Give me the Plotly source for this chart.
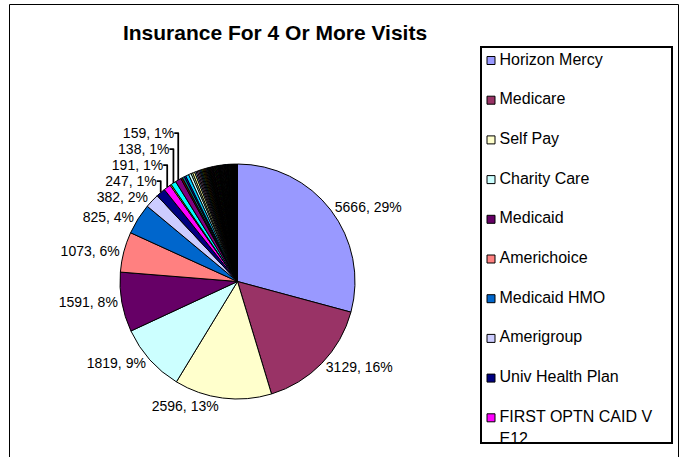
import textwrap
import plotly.graph_objects as go

W, H = 684, 457

# ---------------- data ----------------
main_labels = ["Horizon Mercy", "Medicare", "Self Pay", "Charity Care", "Medicaid",
               "Americhoice", "Medicaid HMO", "Amerigroup", "Univ Health Plan",
               "FIRST OPTN CAID V E12"]
main_values = [5666, 3129, 2596, 1819, 1591, 1073, 825, 382, 247, 191]

# smaller insurers (their names are not visible in the original's legend)
small_values = [35, 138, 159, 45, 60, 40, 85, 70, 45, 55, 40, 35, 35, 30, 30, 28, 30, 25,
                25, 24, 23, 22, 21, 21, 20, 20, 19, 19,
                20, 19, 18, 18, 17, 17, 16, 16, 15, 15, 15, 14, 14, 14, 13, 13, 13, 13,
                12, 12, 12, 12, 11, 11, 11, 11, 11, 10, 10, 10, 10, 10, 10, 9, 9, 9, 9,
                9, 9, 8, 8, 8, 8, 8, 8, 7, 7, 7, 7, 7, 7, 6, 6, 6, 6, 6, 5, 5, 5, 5, 5,
                4, 4, 4, 4, 4, 3, 3, 3, 3, 2, 2, 2, 2, 1, 1, 1, 1]
small_labels = ["Other Plan %d" % (i + 11) for i in range(len(small_values))]

labels = main_labels + small_labels
values = main_values + small_values

legend_count = 10  # entries visible in the (clipped) legend box

# Excel 2003 default chart palette order
palette = ["#9999FF", "#993366", "#FFFFCC", "#CCFFFF", "#660066", "#FF8080", "#0066CC", "#CCCCFF",
           "#000080", "#FF00FF", "#FFFF00", "#00FFFF", "#800080", "#800000", "#008080", "#0000FF",
           "#00CCFF", "#CCFFFF", "#CCFFCC", "#FFFF99", "#99CCFF", "#FF99CC", "#CC99FF", "#FFCC99",
           "#3366FF", "#33CCCC", "#99CC00", "#FFCC00", "#FF9900", "#FF6600", "#666699", "#969696",
           "#003366", "#339966", "#003300", "#333300", "#993300", "#993366", "#333399", "#333333",
           "#000000", "#FFFFFF", "#FF0000", "#00FF00", "#0000FF", "#FFFF00", "#FF00FF", "#00FFFF",
           "#800000", "#008000", "#000080", "#808000", "#800080", "#008080", "#C0C0C0", "#808080"]
colors = [palette[i % len(palette)] for i in range(len(values))]

FONT = "Liberation Sans, Arial, sans-serif"

# ---------------- pie ----------------
cx, cy, R = 237.5, 281.5, 117.5
texts = ["%{value}, %{percent:.0%}" if v >= 100 else "" for v in values]

pie = go.Pie(
    labels=labels, values=values, sort=False, direction="clockwise", rotation=0,
    marker=dict(colors=colors, line=dict(color="black", width=1)),
    texttemplate=texts, textposition="outside",
    textfont=dict(family=FONT, size=14, color="black"),
    showlegend=False, hoverinfo="label+value+percent",
    domain=dict(x=[(cx - R) / W, (cx + R) / W], y=[(H - cy - R) / H, (H - cy + R) / H]),
)

# ---------------- legend (clipped box, like the original) ----------------
box_l, box_r, box_t, box_b = 481.5, 671, 47.5, 442
row0, row_gap, line_gap = 13.0, 39.7, 22.0
sw_x, tx_x = 9.5, 18.0

sw_y, sw_c = [], []
tx_x_list, tx_y, tx_s = [], [], []
for i in range(legend_count):
    y = row0 + row_gap * i
    sw_y.append(y)
    sw_c.append(colors[i])
    for j, line in enumerate(textwrap.wrap(labels[i], 17)):
        tx_x_list.append(tx_x)
        tx_y.append(y + j * line_gap)
        tx_s.append(line)

swatches = go.Scatter(
    x=[sw_x] * len(sw_y), y=sw_y, mode="markers",
    marker=dict(symbol="square", size=8, color=sw_c, line=dict(color="black", width=1)),
    hoverinfo="skip", showlegend=False, cliponaxis=True,
)
legend_text = go.Scatter(
    x=tx_x_list, y=tx_y, mode="text", text=tx_s, textposition="middle right",
    textfont=dict(family=FONT, size=16, color="black"),
    hoverinfo="skip", showlegend=False, cliponaxis=True,
)

fig = go.Figure([pie, swatches, legend_text])

fig.update_layout(
    width=W, height=H, margin=dict(l=0, r=0, t=0, b=0),
    paper_bgcolor="white", plot_bgcolor="white",
    title=dict(text="<b>Insurance For 4 Or More Visits</b>", x=275 / W, y=1 - 33 / H,
               xanchor="center", yanchor="middle",
               font=dict(family=FONT, size=21, color="black")),
    xaxis=dict(domain=[box_l / W, box_r / W], range=[0, box_r - box_l],
               showline=True, mirror=True, linecolor="black", linewidth=2,
               showgrid=False, zeroline=False, showticklabels=False, ticks="", fixedrange=True),
    yaxis=dict(domain=[(H - box_b) / H, (H - box_t) / H], range=[box_b - box_t, 0],
               showline=True, mirror=True, linecolor="black", linewidth=2,
               showgrid=False, zeroline=False, showticklabels=False, ticks="", fixedrange=True),
    shapes=[
        # outer chart-area border
        dict(type="rect", xref="paper", yref="paper", x0=9.5 / W, x1=678.5 / W,
             y0=-0.05, y1=(H - 4.5) / H, line=dict(color="black", width=1), layer="below"),
    ],
)

fig.write_html("out.html", config={"displayModeBar": False},
               post_script="document.body.style.margin='0';document.body.style.overflow='hidden';")
